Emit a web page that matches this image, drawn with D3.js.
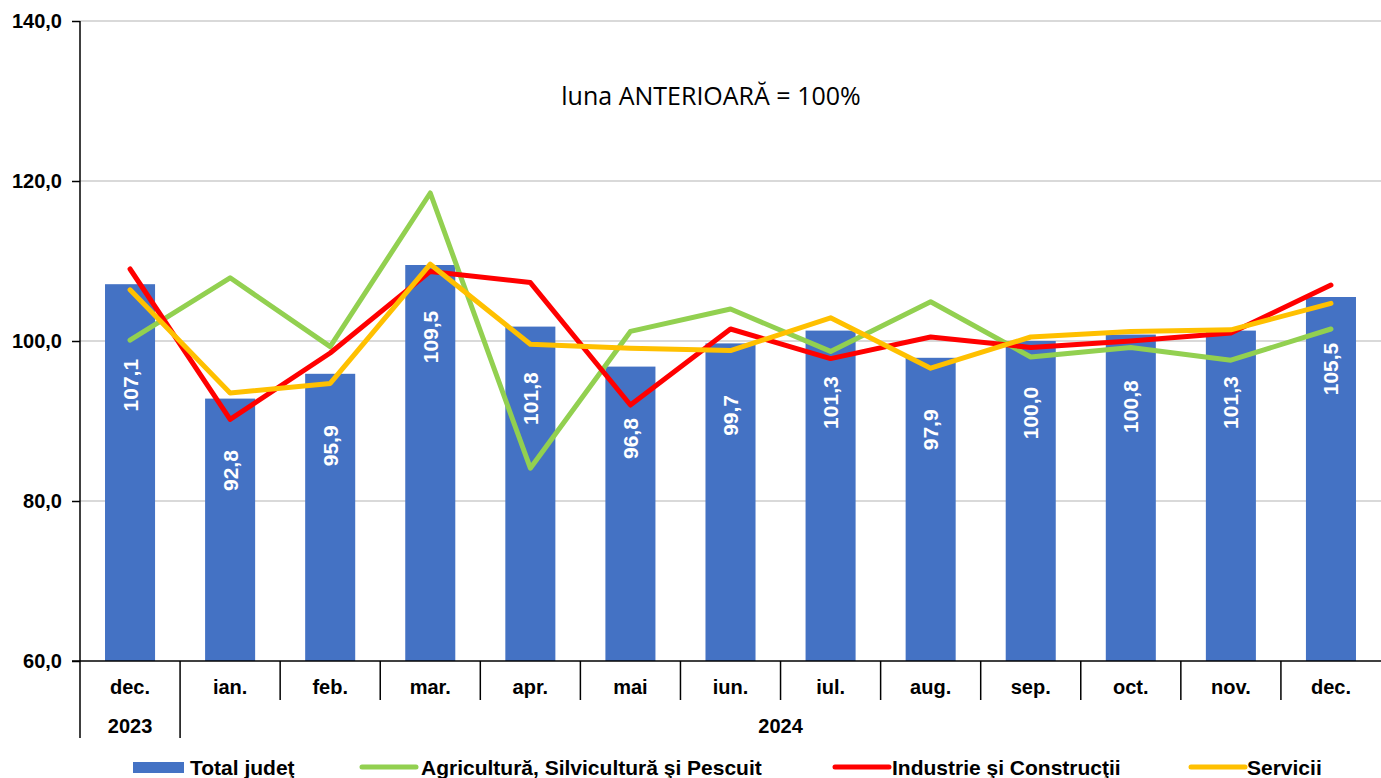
<!DOCTYPE html>
<html>
<head>
<meta charset="utf-8">
<script src="https://cdn.jsdelivr.net/npm/d3@7"></script>
<style>
  body { margin: 0; background: #fff; }
  svg { display: block; }
  .tick-label { font-family: "Liberation Sans", Arial, sans-serif; font-weight: bold; font-size: 20px; fill: #000; }
  .bar-label { font-family: "Liberation Sans", Arial, sans-serif; font-weight: bold; font-size: 21px; fill: #fff; }
  .legend { font-family: "Liberation Sans", Arial, sans-serif; font-weight: bold; font-size: 21px; fill: #000; }
  .subtitle { font-family: "Open Sans", "Noto Sans", sans-serif; font-size: 25px; fill: #000; }
</style>
</head>
<body>
<script>
// Data
var months = ["dec.", "ian.", "feb.", "mar.", "apr.", "mai", "iun.", "iul.", "aug.", "sep.", "oct.", "nov.", "dec."];
var years = ["2023", "2024"];
var total = [107.1, 92.8, 95.9, 109.5, 101.8, 96.8, 99.7, 101.3, 97.9, 100.0, 100.8, 101.3, 105.5];
var agricultura = [100.1, 107.9, 99.3, 118.5, 84.1, 101.2, 104.0, 98.7, 104.9, 98.0, 99.2, 97.6, 101.5];
var industrie = [109.0, 90.2, 98.5, 108.7, 107.3, 92.0, 101.5, 97.8, 100.5, 99.2, 100.0, 101.0, 107.0];
var servicii = [106.4, 93.5, 94.7, 109.6, 99.6, 99.1, 98.8, 102.9, 96.6, 100.5, 101.2, 101.4, 104.7];
var yTicks = [60, 80, 100, 120, 140];

window.onload = function() {
  createChart();
};

function createChart() {
  var width = 1381;
  var height = 778;
  var left = 80;
  var right = 1381;
  var top = 21;
  var bottom = 661;

  var svg = d3.select("body")
              .append("svg")
              .attr("width", width)
              .attr("height", height);

  // Scales
  var x = d3.scaleBand()
            .domain(d3.range(months.length))
            .range([left, right])
            .paddingInner(0)
            .paddingOuter(0);

  var y = d3.scaleLinear()
            .domain([60, 140])
            .range([bottom, top]);

  var fmt = function(v) { return d3.format(".1f")(v).replace(".", ","); };

  // Gridlines
  svg.selectAll(".grid")
     .data(yTicks.filter(function(d) { return d > 60; }))
     .enter()
     .append("line")
     .attr("x1", left)
     .attr("x2", right)
     .attr("y1", function(d) { return y(d); })
     .attr("y2", function(d) { return y(d); })
     .attr("stroke", "#d9d9d9")
     .attr("stroke-width", 2);

  // Y axis
  var yAxis = d3.axisLeft(y)
                .tickValues(yTicks)
                .tickSize(8)
                .tickPadding(10)
                .tickFormat(fmt);
  var gy = svg.append("g")
              .attr("transform", "translate(" + left + ",0)")
              .call(yAxis);
  gy.select(".domain").remove();
  gy.selectAll(".tick line").attr("stroke", "#000").attr("stroke-width", 1.5);
  gy.selectAll(".tick text")
    .attr("class", "tick-label")
    .attr("font-family", null)
    .attr("font-size", null);
  svg.append("line")
     .attr("x1", left).attr("x2", left)
     .attr("y1", top).attr("y2", 738)
     .attr("stroke", "#000").attr("stroke-width", 1.5);

  // Bars
  var barW = x.bandwidth() * 0.5;
  svg.selectAll(".bar")
     .data(total)
     .enter()
     .append("rect")
     .attr("x", function(d, i) { return x(i) + (x.bandwidth() - barW) / 2; })
     .attr("y", function(d) { return y(d); })
     .attr("width", barW)
     .attr("height", function(d) { return bottom - y(d); })
     .attr("fill", "#4472c4");

  // Lines
  var series = [
    {values: agricultura, color: "#92d050"},
    {values: industrie, color: "#ff0000"},
    {values: servicii, color: "#ffc000"}
  ];
  var line = d3.line()
               .x(function(d, i) { return x(i) + x.bandwidth() / 2; })
               .y(function(d) { return y(d); });
  series.forEach(function(s) {
    svg.append("path")
       .datum(s.values)
       .attr("d", line)
       .attr("fill", "none")
       .attr("stroke", s.color)
       .attr("stroke-width", 5)
       .attr("stroke-linecap", "round")
       .attr("stroke-linejoin", "round");
  });

  // Bar labels: inside the bar, pushed down if a line point would cross them
  svg.selectAll(".bar-label")
     .data(total)
     .enter()
     .append("text")
     .attr("class", "bar-label")
     .attr("text-anchor", "middle")
     .attr("dominant-baseline", "central")
     .attr("transform", function(d, i) {
       var cy = y(d) + 72;
       series.forEach(function(s) {
         var py = y(s.values[i]);
         if (py > cy - 30 && py < cy + 30) cy = py + 45;
       });
       return "translate(" + (x(i) + x.bandwidth() / 2) + "," + cy + ") rotate(-90)";
     })
     .text(function(d) { return fmt(d); });

  // X axis line
  svg.append("line")
     .attr("x1", left - 8).attr("x2", right)
     .attr("y1", bottom).attr("y2", bottom)
     .attr("stroke", "#000").attr("stroke-width", 1.5);

  // Category separators
  svg.selectAll(".sep")
     .data(d3.range(1, months.length))
     .enter()
     .append("line")
     .attr("x1", function(i) { return x(i); })
     .attr("x2", function(i) { return x(i); })
     .attr("y1", bottom)
     .attr("y2", function(i) { return i == 1 ? 738 : 700; })
     .attr("stroke", "#000")
     .attr("stroke-width", 1.5);

  // Month labels
  svg.selectAll(".month")
     .data(months)
     .enter()
     .append("text")
     .attr("class", "tick-label")
     .attr("text-anchor", "middle")
     .attr("x", function(d, i) { return x(i) + x.bandwidth() / 2; })
     .attr("y", 694)
     .text(function(d) { return d; });

  // Year labels
  svg.append("text")
     .attr("class", "tick-label")
     .attr("text-anchor", "middle")
     .attr("x", x(0) + x.bandwidth() / 2)
     .attr("y", 733)
     .text(years[0]);
  svg.append("text")
     .attr("class", "tick-label")
     .attr("text-anchor", "middle")
     .attr("x", (x(1) + right) / 2)
     .attr("y", 733)
     .text(years[1]);

  // Subtitle
  svg.append("text")
     .attr("class", "subtitle")
     .attr("text-anchor", "middle")
     .attr("x", 711)
     .attr("y", 105)
     .text("luna ANTERIOARĂ = 100%");

  // Legend
  svg.append("rect")
     .attr("x", 133).attr("y", 762)
     .attr("width", 51).attr("height", 11)
     .attr("fill", "#4472c4");
  svg.append("text").attr("class", "legend")
     .attr("x", 190).attr("y", 775).text("Total judeţ");

  var legendLines = [
    {x: 362, tx: 421, label: "Agricultură, Silvicultură şi Pescuit", color: "#92d050"},
    {x: 835, tx: 892, label: "Industrie şi Construcţii", color: "#ff0000"},
    {x: 1191, tx: 1247, label: "Servicii", color: "#ffc000"}
  ];
  legendLines.forEach(function(l) {
    svg.append("line")
       .attr("x1", l.x).attr("x2", l.x + 54)
       .attr("y1", 767).attr("y2", 767)
       .attr("stroke", l.color)
       .attr("stroke-width", 5)
       .attr("stroke-linecap", "round");
    svg.append("text").attr("class", "legend")
       .attr("x", l.tx).attr("y", 775).text(l.label);
  });
};
</script>
</body>
</html>
